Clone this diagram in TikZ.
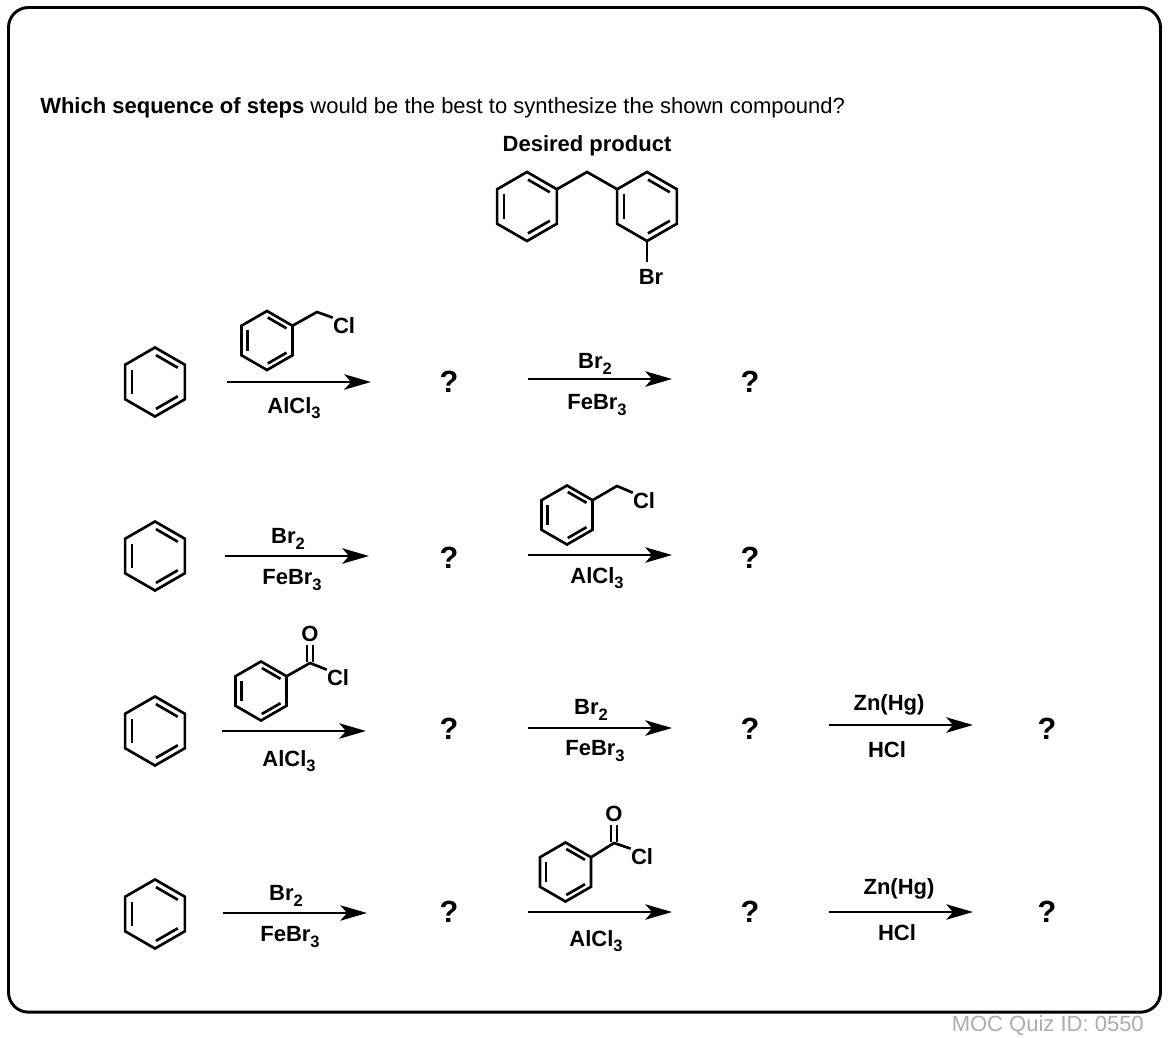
\documentclass[tikz,border=0pt]{standalone}
\usepackage{fontspec}
\setmainfont{Liberation Sans}
\usetikzlibrary{arrows.meta}
\newcommand{\subn}[1]{\raisebox{-0.24em}{\fontsize{12.4pt}{12pt}\selectfont #1}}
\tikzset{
  x=0.75pt,y=-0.75pt,
  bond/.style={line width=2pt,line join=miter,black},
  rxn/.style={line width=2.05pt,-{Stealth[length=20pt,width=11.5pt,inset=5pt]},black},
  lab/.style={font=\fontsize{16.5pt}{18pt}\selectfont\bfseries,inner sep=0pt,anchor=center},
  ques/.style={font=\fontsize{23pt}{24pt}\selectfont\bfseries,inner sep=0pt,anchor=center},
  atom/.style={font=\fontsize{16.5pt}{18pt}\selectfont\bfseries,inner sep=0pt,anchor=center},
}
\newcommand{\benz}[3]{%
  \begin{scope}[shift={(#1,#2)}]
    \draw[bond] (30:#3) -- (90:#3) -- (150:#3) -- (210:#3) -- (270:#3) -- (330:#3) -- cycle;
    \draw[bond] (272:0.78*#3) -- (328:0.78*#3);
    \draw[bond] (32:0.78*#3) -- (88:0.78*#3);
    \draw[bond] (152:0.75*#3) -- (208:0.75*#3);
  \end{scope}}
\newcommand{\rxnarrow}[4]{%
  \coordinate (#1s) at (#2,#4);
  \coordinate (#1e) at (#3,#4);
  \draw[rxn] (#1s) -- (#1e);}
\begin{document}
\begin{tikzpicture}
\useasboundingbox (0,0) rectangle (1168,1038);
\fill[white] (0,0) rectangle (1168,1038);
\node[draw=black,line width=2.2pt,rounded corners=15pt,outer sep=0pt,minimum width=864pt,minimum height=753.5pt,inner sep=0pt,anchor=north west] (frame) at (8.5,7.5) {};
\node[font=\fontsize{16.5pt}{18pt}\selectfont,inner sep=0pt,anchor=west] (question) at (40,108) {\textbf{Which sequence of steps} would be the best to synthesize the shown compound?};
\node[lab] (desired) at (587,146) {Desired product};
\node[font=\fontsize{16.5pt}{18pt}\selectfont,text=black!32,inner sep=0pt,anchor=east] (quizid) at (1144,1026) {MOC Quiz ID: 0550};

% product
\benz{527}{206.5}{34.5}
\benz{647}{206.5}{34.5}
\coordinate (ch2) at (587,172);
\draw[bond] (556.9,189.2) -- (ch2) -- (617.1,189.2);
\node[atom] (brp) at (651,277) {Br};
\draw[bond] (647,241) -- (647,262);

% starting benzenes
\benz{155}{382}{34.5}
\benz{155}{556}{34.5}
\benz{155}{731}{34.5}
\benz{155}{914}{34.5}

% row 1
\benz{267}{340.5}{29.5}
\coordinate (c1) at (317,312);
\node[atom] (cl1) at (344,326) {Cl};
\draw[bond] (292.5,325.7) -- (c1) -- (cl1.north west);
\rxnarrow{a1}{227}{371}{382}
\node[lab] (alcla) at (294,408) {AlCl\subn{3}};
\node[ques] (q1a) at (449,382) {?};
\rxnarrow{a2}{528}{672}{379}
\node[lab] (br1) at (595,364) {Br\subn{2}};
\node[lab] (fe1) at (597,405) {FeBr\subn{3}};
\node[ques] (q1b) at (750,382) {?};

% row 2
\rxnarrow{b1}{225}{369}{556}
\node[lab] (br2) at (288,539) {Br\subn{2}};
\node[lab] (fe2) at (292,580) {FeBr\subn{3}};
\node[ques] (q2a) at (449,558) {?};
\benz{567}{515}{29.5}
\coordinate (c2) at (617,486);
\node[atom] (cl2) at (644,501) {Cl};
\draw[bond] (592.5,500.2) -- (c2) -- (cl2.north west);
\rxnarrow{b2}{528}{672}{555}
\node[lab] (alclb) at (597,578) {AlCl\subn{3}};
\node[ques] (q2b) at (750,558) {?};

% row 3
\benz{261}{691}{29.5}
\coordinate (c3) at (310,663);
\node[atom] (o3) at (310,634) {O};
\node[atom] (cl3) at (338,678) {Cl};
\draw[bond] (286.5,676.3) -- (c3) -- (cl3.north west);
\draw[bond] (307,645) -- (307,661.5);
\draw[bond] (313,645) -- (313,661.5);
\rxnarrow{c1}{222}{366}{731}
\node[lab] (alclc) at (289,761) {AlCl\subn{3}};
\node[ques] (q3a) at (449,729) {?};
\rxnarrow{c2}{528}{672}{728}
\node[lab] (br3) at (591,710) {Br\subn{2}};
\node[lab] (fe3) at (595,751) {FeBr\subn{3}};
\node[ques] (q3b) at (750,729) {?};
\rxnarrow{c3}{829}{973}{725}
\node[lab] (zn3) at (889,705) {Zn(Hg)};
\node[lab] (hcl3) at (887,750) {HCl};
\node[ques] (q3c) at (1047,729) {?};

% row 4
\rxnarrow{d1}{223}{367}{913}
\node[lab] (br4) at (286,896) {Br\subn{2}};
\node[lab] (fe4) at (290,937) {FeBr\subn{3}};
\node[ques] (q4a) at (449,912) {?};
\benz{565.5}{872}{29.5}
\coordinate (c4) at (614,843);
\node[atom] (o4) at (614,814) {O};
\node[atom] (cl4) at (642,857) {Cl};
\draw[bond] (591,857.3) -- (c4) -- (cl4.north west);
\draw[bond] (611,825) -- (611,841.5);
\draw[bond] (617,825) -- (617,841.5);
\rxnarrow{d2}{528}{672}{912}
\node[lab] (alcld) at (596,941) {AlCl\subn{3}};
\node[ques] (q4b) at (750,912) {?};
\rxnarrow{d3}{829}{973}{912}
\node[lab] (zn4) at (899,889) {Zn(Hg)};
\node[lab] (hcl4) at (897,933) {HCl};
\node[ques] (q4c) at (1047,912) {?};
\end{tikzpicture}
\end{document}
